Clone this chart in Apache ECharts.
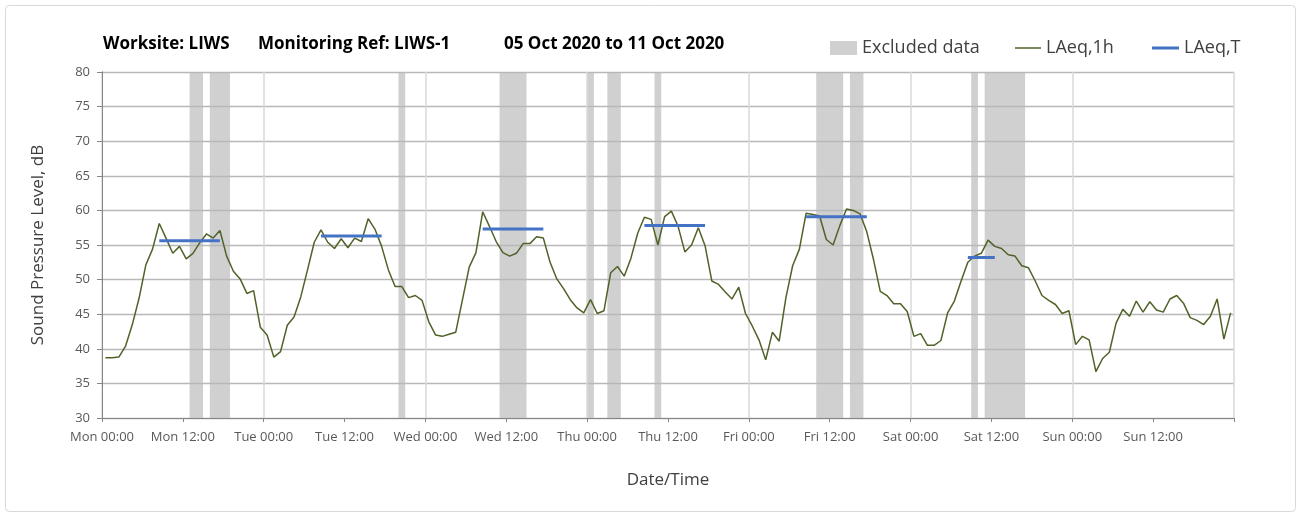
<!DOCTYPE html>
<html>
<head>
<meta charset="utf-8">
<script src="https://cdn.jsdelivr.net/npm/echarts@6/dist/echarts.min.js"></script>
<style>
html,body{margin:0;padding:0;background:#fff;}
#chart{width:1301px;height:513px;}
</style>
</head>
<body>
<div id="chart"></div>
<script>
// Hourly LAeq,1h values (Mon 00:00 .. Sun 23:00), dB
const laeq1h = [
 38.7,38.7,38.8,40.4,43.5,47.3,52.1,54.4,58.1,56.0,53.8,54.8,53.0,53.8,55.3,56.6,56.0,57.1,53.4,51.2,50.1,48.0,48.4,43.1,
 42.0,38.8,39.6,43.4,44.6,47.5,51.4,55.4,57.2,55.4,54.5,55.9,54.6,56.0,55.5,58.8,57.3,54.8,51.4,49.0,49.0,47.4,47.7,47.0,
 43.9,42.0,41.8,42.1,42.4,47.1,51.8,53.9,59.8,57.7,55.5,53.9,53.4,53.8,55.2,55.2,56.2,56.0,52.5,50.1,48.7,47.1,45.9,45.2,
 47.1,45.1,45.5,51.0,51.9,50.5,53.1,56.7,59.0,58.7,55.0,59.1,59.9,57.7,54.0,55.0,57.5,54.9,49.8,49.3,48.2,47.2,48.9,45.1,
 43.3,41.3,38.4,42.4,41.1,47.4,52.0,54.4,59.6,59.4,59.2,55.8,55.0,57.8,60.2,60.0,59.5,56.9,52.9,48.3,47.7,46.5,46.5,45.4,
 41.8,42.2,40.5,40.5,41.2,45.2,46.9,49.8,52.5,53.4,53.8,55.7,54.8,54.5,53.6,53.4,52.0,51.7,49.8,47.7,47.0,46.4,45.1,45.5,
 40.6,41.8,41.3,36.7,38.6,39.5,43.7,45.7,44.7,46.9,45.3,46.8,45.6,45.3,47.2,47.7,46.6,44.5,44.1,43.5,44.7,47.2,41.4,45.2
];
// LAeq,T periods (hours from Mon 00:00) and levels
const laeqTStart = [8.5, 32.5, 56.5, 80.5, 104.5, 128.5];
const laeqTEnd   = [17.5, 41.5, 65.5, 89.5, 113.5, 132.5];
const laeqTValue = [55.6, 56.3, 57.3, 57.8, 59.1, 53.2];
// Excluded data periods (hours from Mon 00:00)
const excludedStart = [13, 16, 44, 59, 72, 75, 82, 106, 111, 129, 131];
const excludedEnd   = [15, 19, 45, 63, 73, 77, 83, 110, 113, 130, 137];
// X tick labels every 12 hours
const xTickLabels = ['Mon 00:00','Mon 12:00','Tue 00:00','Tue 12:00','Wed 00:00','Wed 12:00','Thu 00:00','Thu 12:00',
  'Fri 00:00','Fri 12:00','Sat 00:00','Sat 12:00','Sun 00:00','Sun 12:00',''];

const FONT = '"Open Sans", "DejaVu Sans", sans-serif';
const chart = echarts.init(document.getElementById('chart'), null, {renderer:'canvas'});

const lineData = laeq1h.map((v, i) => [i + 0.5, v]);
const excludedData = excludedStart.map((s, i) => [s, excludedEnd[i]]);

const laeqTSeries = laeqTStart.map((s, i) => ({
  name: 'LAeq,T', type: 'line', xAxisIndex: 0, yAxisIndex: 0,
  data: [[s, laeqTValue[i]], [laeqTEnd[i], laeqTValue[i]]],
  symbol: 'none', silent: true, z: 4,
  lineStyle: {color: '#4472C4', width: 3},
  itemStyle: {color: '#4472C4'}
}));

const titleStyle = {fontFamily: FONT, fontSize: 17, fontWeight: 'bold', color: '#000'};
const legendText = {fontFamily: FONT, fontSize: 18, color: '#404040'};

const option = {
  animation: false,
  backgroundColor: '#ffffff',
  textStyle: {fontFamily: FONT},
  graphic: [{
    type: 'rect', shape: {x: 5.5, y: 5.5, width: 1290, height: 506, r: 4},
    style: {fill: 'none', stroke: '#D9D9D9', lineWidth: 1}, silent: true, z: -10
  }],
  title: [
    {text: 'Worksite: LIWS', left: 98, top: 31, textStyle: titleStyle},
    {text: 'Monitoring Ref: LIWS-1', left: 253, top: 31, textStyle: titleStyle},
    {text: '05 Oct 2020 to 11 Oct 2020', left: 499, top: 31, textStyle: titleStyle}
  ],
  legend: [
    {data: [{name: 'Excluded data', icon: 'rect'}], left: 825, top: 34, itemWidth: 27, itemHeight: 14,
      textStyle: legendText, selectedMode: false},
    {data: [{name: 'LAeq,1h', icon: 'rect', itemStyle: {color: '#4F6228'}}], left: 1010, top: 34, itemWidth: 26, itemHeight: 1.5,
      textStyle: legendText, selectedMode: false},
    {data: [{name: 'LAeq,T', icon: 'rect', itemStyle: {color: '#4472C4'}}], left: 1147, top: 34, itemWidth: 27, itemHeight: 3,
      textStyle: legendText, selectedMode: false}
  ],
  grid: {left: 102, right: 67, top: 72, bottom: 95, containLabel: false},
  xAxis: [
    {
      type: 'value', min: 0, max: 168, interval: 12, position: 'bottom', z: 1,
      name: 'Date/Time', nameLocation: 'middle', nameGap: 54,
      nameTextStyle: {fontFamily: FONT, fontSize: 17, color: '#404040'},
      axisLine: {show: true, lineStyle: {color: '#868686', width: 1}},
      axisTick: {show: true, length: 4, lineStyle: {color: '#868686'}},
      axisLabel: {fontFamily: FONT, fontSize: 13, color: '#595959', margin: 13,
        formatter: v => xTickLabels[Math.round(v / 12)] || ''},
      splitLine: {show: false}
    },
    {
      type: 'value', min: 0, max: 168, interval: 24, position: 'top', z: 1,
      axisLine: {show: false}, axisTick: {show: false}, axisLabel: {show: false},
      splitLine: {show: true, lineStyle: {color: '#D9D9D9', width: 1.5}}
    }
  ],
  yAxis: [
    {
      type: 'value', min: 30, max: 80, interval: 5, z: 1,
      name: 'Sound Pressure Level, dB', nameLocation: 'middle', nameGap: 55, nameRotate: 90,
      nameTextStyle: {fontFamily: FONT, fontSize: 17, color: '#404040'},
      axisLine: {show: true, lineStyle: {color: '#868686', width: 1}},
      axisTick: {show: true, length: 5, lineStyle: {color: '#868686'}},
      axisLabel: {fontFamily: FONT, fontSize: 13, color: '#595959', margin: 12},
      splitLine: {show: true, lineStyle: {color: '#B8B8B8', width: 1.4}}
    },
    {
      type: 'value', min: 30, max: 80, interval: 5, position: 'right', z: 1,
      axisLine: {show: true, lineStyle: {color: '#868686', width: 1}},
      axisTick: {show: false}, axisLabel: {show: false}, splitLine: {show: false}
    }
  ],
  series: [
    {
      name: 'Excluded data', type: 'custom', xAxisIndex: 0, yAxisIndex: 0, z: 0.5, silent: true,
      itemStyle: {color: '#D0D0D0'},
      data: excludedData,
      renderItem: function (params, api) {
        const p1 = api.coord([api.value(0), 80]);
        const p2 = api.coord([api.value(1), 30]);
        return {type: 'rect', shape: {x: p1[0], y: p1[1], width: p2[0] - p1[0], height: p2[1] - p1[1]},
          style: {fill: '#D0D0D0'}};
      },
      encode: {x: [0, 1]}
    },
    {
      name: 'LAeq,1h', type: 'line', xAxisIndex: 0, yAxisIndex: 0, z: 3,
      data: lineData, symbol: 'none', silent: true,
      lineStyle: {color: '#4F6228', width: 1.5},
      itemStyle: {color: '#4F6228'}
    }
  ].concat(laeqTSeries)
};
chart.setOption(option);
</script>
</body>
</html>
